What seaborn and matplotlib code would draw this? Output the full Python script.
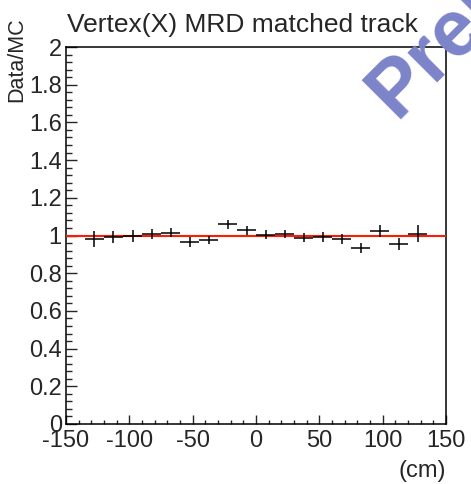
import matplotlib
matplotlib.use("Agg")
import matplotlib.pyplot as plt
from matplotlib.ticker import MultipleLocator
import seaborn as sns
import numpy as np

# ---- data ----
bin_centers = [-127.5, -112.5, -97.5, -82.5, -67.5, -52.5, -37.5, -22.5, -7.5,
               7.5, 22.5, 37.5, 52.5, 67.5, 82.5, 97.5, 112.5, 127.5]
ratio = [0.981, 0.992, 0.999, 1.008, 1.015, 0.966, 0.974, 1.059, 1.027,
         1.004, 1.008, 0.988, 0.992, 0.981, 0.932, 1.024, 0.955, 1.010]
ratio_err = [0.044, 0.032, 0.031, 0.027, 0.025, 0.025, 0.021, 0.025, 0.026,
             0.023, 0.022, 0.023, 0.025, 0.025, 0.027, 0.031, 0.031, 0.045]
bin_halfwidth = 7.5
ref_x = [-150, 150]
ref_y = [1, 1]
yticks = [0, 0.2, 0.4, 0.6, 0.8, 1, 1.2, 1.4, 1.6, 1.8, 2]
ytick_labels = ["0", "0.2", "0.4", "0.6", "0.8", "1", "1.2", "1.4", "1.6", "1.8", "2"]
title = "Vertex(X) MRD matched track"
ylabel = "Data/MC"
xlabel = "(cm)"
watermark = "Preliminary"

sns.set_style("ticks")
plt.rcParams["font.family"] = ["Liberation Sans", "DejaVu Sans"]
plt.rcParams["axes.unicode_minus"] = False

W, H = 471, 484
fig = plt.figure(figsize=(W / 100, H / 100), dpi=100)
fig.patch.set_facecolor("white")
ax = fig.add_axes([66 / W, 1 - 424 / H, (446 - 66) / W, (424 - 47) / H])
ax.set_facecolor("none")

fs = 17

# watermark (under the frame)
fig.text(396 / W, 1 - 119 / H, watermark, fontsize=57, fontweight="bold",
         color="#7c84c9", rotation=45, rotation_mode="anchor",
         ha="left", va="baseline", zorder=0)

sns.lineplot(x=ref_x, y=ref_y, ax=ax, color="#ff1a00", linewidth=1.5, zorder=3)
ax.errorbar(bin_centers, ratio, xerr=bin_halfwidth, yerr=ratio_err,
            fmt="none", ecolor="black", elinewidth=1.1, capsize=0, zorder=4)

ax.set_xlim(-150, 150)
ax.set_ylim(0, 2)
ax.xaxis.set_major_locator(MultipleLocator(50))
ax.xaxis.set_minor_locator(MultipleLocator(10))
ax.set_yticks(yticks)
ax.set_yticklabels(ytick_labels)
ax.yaxis.set_minor_locator(MultipleLocator(0.04))

for s in ax.spines.values():
    s.set_linewidth(1.1)
    s.set_color("black")

ax.tick_params(axis="x", which="major", direction="in", length=6.7, width=1.0,
               labelsize=fs, pad=4, top=False)
ax.tick_params(axis="x", which="minor", direction="in", length=3.2, width=1.0, top=False)
ax.tick_params(axis="y", which="major", direction="in", length=7.7, width=1.0,
               labelsize=fs, pad=3, right=False)
ax.tick_params(axis="y", which="minor", direction="in", length=4.3, width=1.0, right=False)
ax.set_xlabel("")
ax.set_ylabel("")

fig.text(67 / W, 1 - 32 / H, title, fontsize=19, ha="left", va="baseline")
fig.text(446 / W, 1 - 477 / H, xlabel, fontsize=fs, ha="right", va="baseline")
fig.text(27 / W, 1 - 17 / H, ylabel, fontsize=15.5, rotation=90, ha="right", va="top")

fig.savefig("out.png", dpi=100)
